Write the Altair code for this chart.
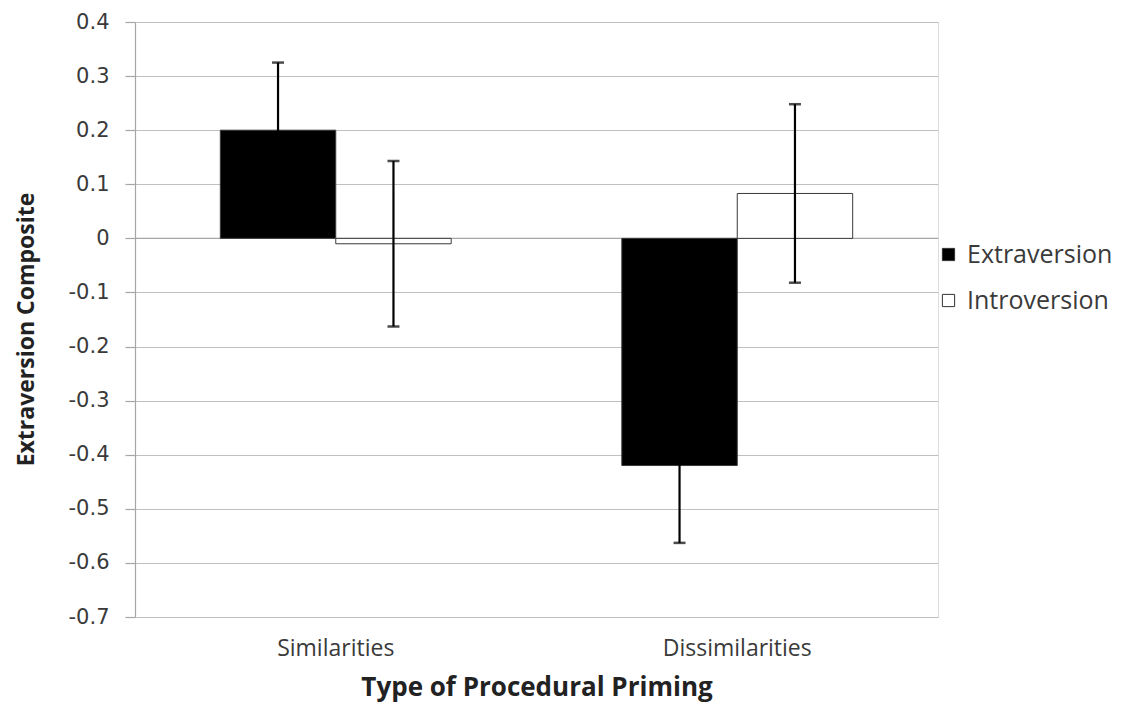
import altair as alt
import pandas as pd

categories = ["Similarities", "Dissimilarities"]
series = ["Extraversion", "Introversion"]
means_extraversion = [0.200, -0.420]
means_introversion = [-0.010, 0.083]
err_extraversion = [0.125, 0.143]
err_introversion = [0.153, 0.165]
y_ticks = [0.4, 0.3, 0.2, 0.1, 0, -0.1, -0.2, -0.3, -0.4, -0.5, -0.6, -0.7]

rows = []
for i, c in enumerate(categories):
    for s, m, e in ((series[0], means_extraversion[i], err_extraversion[i]),
                    (series[1], means_introversion[i], err_introversion[i])):
        rows.append({"cat": c, "ser": s, "mean": m, "lo": m - e, "hi": m + e})
df = pd.DataFrame(rows)

FONT = "Open Sans"
TXT = "#3a3a3a"

xenc = alt.X("cat:N", sort=categories,
             scale=alt.Scale(paddingInner=0.425, paddingOuter=0.2125),
             axis=alt.Axis(title="Type of Procedural Priming", labelAngle=0,
                           domain=False, ticks=False, labelPadding=20,
                           labelFontSize=23, labelFont=FONT, labelColor=TXT,
                           titleFontSize=26, titleFont=FONT, titleFontWeight="bold",
                           titleColor="#222222", titlePadding=14))
xoff = alt.XOffset("ser:N", sort=series, scale=alt.Scale(paddingInner=0, paddingOuter=0))
yscale = alt.Scale(domain=[-0.7, 0.4], nice=False, zero=False)

base = alt.Chart(df)

zero = alt.Chart(pd.DataFrame({"z": [0]})).mark_rule(color="#a6a6a6", strokeWidth=1.2).encode(
    y=alt.Y("z:Q", scale=yscale)
)

bars = base.mark_bar(stroke="#3a3a3a", strokeWidth=1).encode(
    x=xenc,
    xOffset=xoff,
    y=alt.Y("mean:Q", scale=yscale,
            axis=alt.Axis(title="Extraversion Composite", values=y_ticks,
                          labelExpr="'' + datum.value",
                          grid=True, gridColor="#c0c0c0", gridWidth=1.2,
                          domain=True, domainColor="#a6a6a6", domainWidth=1.2,
                          ticks=True, tickSize=10, tickColor="#a6a6a6", tickWidth=1.2,
                          labelPadding=16, labelFontSize=21, labelFont="DejaVu Sans",
                          labelColor=TXT, titleFontSize=23, titleFont=FONT,
                          titleFontWeight="bold", titleColor="#222222", titlePadding=30,
                          titleY=307)),
    y2=alt.Y2(datum=0),
    color=alt.Color("ser:N", sort=series,
                    scale=alt.Scale(domain=series, range=["#000000", "#ffffff"]),
                    legend=alt.Legend(title=None, orient="none", legendX=801, legendY=220,
                                      symbolType="square", symbolSize=150,
                                      symbolStrokeColor="#333333", symbolStrokeWidth=1,
                                      labelFontSize=25, labelFont=FONT, labelColor=TXT,
                                      labelOffset=6, rowPadding=20)),
)

errs = base.mark_rule(color="#000000", strokeWidth=2.2).encode(
    x=alt.X("cat:N", sort=categories), xOffset=alt.XOffset("ser:N", sort=series),
    y=alt.Y("lo:Q", scale=yscale), y2="hi:Q"
)
cap_lo = base.mark_tick(color="#000000", size=12, thickness=2.5).encode(
    x=alt.X("cat:N", sort=categories), xOffset=alt.XOffset("ser:N", sort=series),
    y=alt.Y("lo:Q", scale=yscale)
)
cap_hi = base.mark_tick(color="#000000", size=12, thickness=2.5).encode(
    x=alt.X("cat:N", sort=categories), xOffset=alt.XOffset("ser:N", sort=series),
    y=alt.Y("hi:Q", scale=yscale)
)

chart = alt.layer(zero, bars, errs, cap_lo, cap_hi).properties(
    width=803, height=595,
    autosize=alt.AutoSizeParams(type="none"),
    padding={"left": 127, "top": 14, "right": 180, "bottom": 92},
).configure_view(stroke=None).configure(background="white")

chart.save("out.html", embed_options={"renderer": "svg", "actions": False})
